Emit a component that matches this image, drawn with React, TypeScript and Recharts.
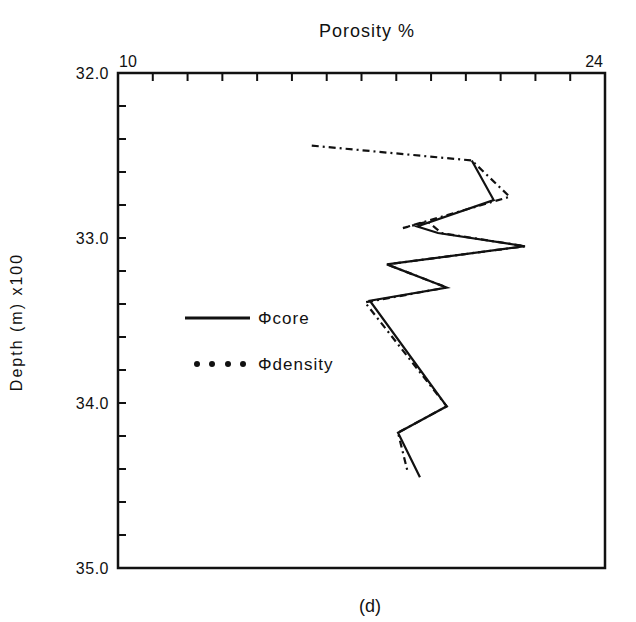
import {
  ScatterChart,
  Scatter,
  XAxis,
  YAxis,
  ReferenceArea,
  Customized,
} from "recharts";

// depth in m x100, porosity in %
const densityDepth = [32.44, 32.53, 32.75, 32.94, 32.9, 32.97, 33.05, 33.16, 33.3, 33.39, 34.02, 34.18, 34.42];
const densityPorosity = [15.57, 20.17, 21.26, 18.19, 18.9, 19.3, 21.7, 17.73, 19.45, 17.1, 19.45, 18.05, 18.33];

const coreDepth = [32.53, 32.77, 32.93, 32.97, 33.05, 33.16, 33.3, 33.38, 34.02, 34.18, 34.45];
const corePorosity = [20.17, 20.8, 18.6, 19.2, 21.7, 17.73, 19.45, 17.24, 19.45, 18.05, 18.68];

const porosityTicks = [10, 11, 12, 13, 14, 15, 16, 17, 18, 19, 20, 21, 22, 23, 24];
const porosityLabels = [10, 24];
const depthTicks = [32.0, 32.2, 32.4, 32.6, 32.8, 33.0, 33.2, 33.4, 33.6, 33.8, 34.0, 34.2, 34.4, 34.6, 34.8, 35.0];
const depthLabels = [32, 33, 34, 35];

const FONT = "'Liberation Sans', Arial, sans-serif";
const INK = "#111";

const toPoints = (depth: number[], por: number[]) =>
  depth.map((d, i) => ({ depth: d, porosity: por[i] }));

const densityData = toPoints(densityDepth, densityPorosity);
const coreData = toPoints(coreDepth, corePorosity);

const NoDot = () => <g />;

function TopTick(props: any) {
  const { x, y, payload } = props;
  const v = payload.value;
  const first = v === porosityLabels[0];
  return (
    <g>
      <line x1={x} x2={x} y1={y} y2={y + 8} stroke={INK} strokeWidth={2} />
      {porosityLabels.includes(v) && (
        <text
          x={first ? x + 1 : x - 2}
          y={y - 6}
          textAnchor={first ? "start" : "end"}
          fontSize={16}
          fontFamily={FONT}
          fill={INK}
        >
          {v}
        </text>
      )}
    </g>
  );
}

function LeftTick(props: any) {
  const { x, y, payload } = props;
  const v = payload.value;
  const show = depthLabels.some((d) => Math.abs(d - v) < 1e-6);
  return (
    <g>
      <line x1={x} x2={x + 8} y1={y} y2={y} stroke={INK} strokeWidth={2} />
      {show && (
        <text
          x={x - 9}
          y={y + 6}
          textAnchor="end"
          fontSize={16}
          fontFamily={FONT}
          fill={INK}
          letterSpacing={0.5}
        >
          {v.toFixed(1)}
        </text>
      )}
    </g>
  );
}

function Annotations() {
  return (
    <g fontFamily={FONT} fill={INK}>
      <text x={359} y={29} textAnchor="middle" fontSize={18} letterSpacing={1}>
        Porosity %
      </text>
      <text
        x={14}
        y={314}
        textAnchor="middle"
        fontSize={16}
        letterSpacing={2}
        transform="rotate(-90 14 314)"
      >
        Depth (m) x100
      </text>
      <text x={362} y={604} textAnchor="middle" fontSize={18}>
        (d)
      </text>
      {/* legend */}
      <line x1={177} x2={242} y1={310} y2={310} stroke={INK} strokeWidth={3} />
      <text x={250} y={316} fontSize={17} letterSpacing={1}>
        Φcore
      </text>
      {[189, 204, 220, 235].map((cx) => (
        <circle key={cx} cx={cx} cy={356} r={3} fill={INK} />
      ))}
      <text x={250} y={362} fontSize={17} letterSpacing={1}>
        Φdensity
      </text>
    </g>
  );
}

export default function App() {
  return (
    <ScatterChart
      width={628}
      height={614}
      margin={{ top: 35, right: 31, bottom: 54, left: 50 }}
      style={{ background: "#fff" }}
    >
      <XAxis
        type="number"
        dataKey="porosity"
        orientation="top"
        domain={[10, 24]}
        ticks={porosityTicks}
        interval={0}
        height={30}
        axisLine={false}
        tickLine={false}
        tickSize={0}
        tickMargin={0}
        tick={TopTick}
      />
      <YAxis
        type="number"
        dataKey="depth"
        domain={[32, 35]}
        reversed
        ticks={depthTicks}
        interval={0}
        width={60}
        axisLine={false}
        tickLine={false}
        tickSize={0}
        tickMargin={0}
        tick={LeftTick}
      />
      <ReferenceArea
        x1={10}
        x2={24}
        y1={32}
        y2={35}
        fill="none"
        fillOpacity={0}
        stroke={INK}
        strokeWidth={2.5}
      />
      <Scatter
        name="density"
        data={densityData}
        line={{ stroke: INK, strokeWidth: 2.2, strokeDasharray: "7 4 2 4" }}
        shape={NoDot}
        isAnimationActive={false}
      />
      <Scatter
        name="core"
        data={coreData}
        line={{ stroke: INK, strokeWidth: 2.2 }}
        shape={NoDot}
        isAnimationActive={false}
      />
      <Customized component={Annotations} />
    </ScatterChart>
  );
}
